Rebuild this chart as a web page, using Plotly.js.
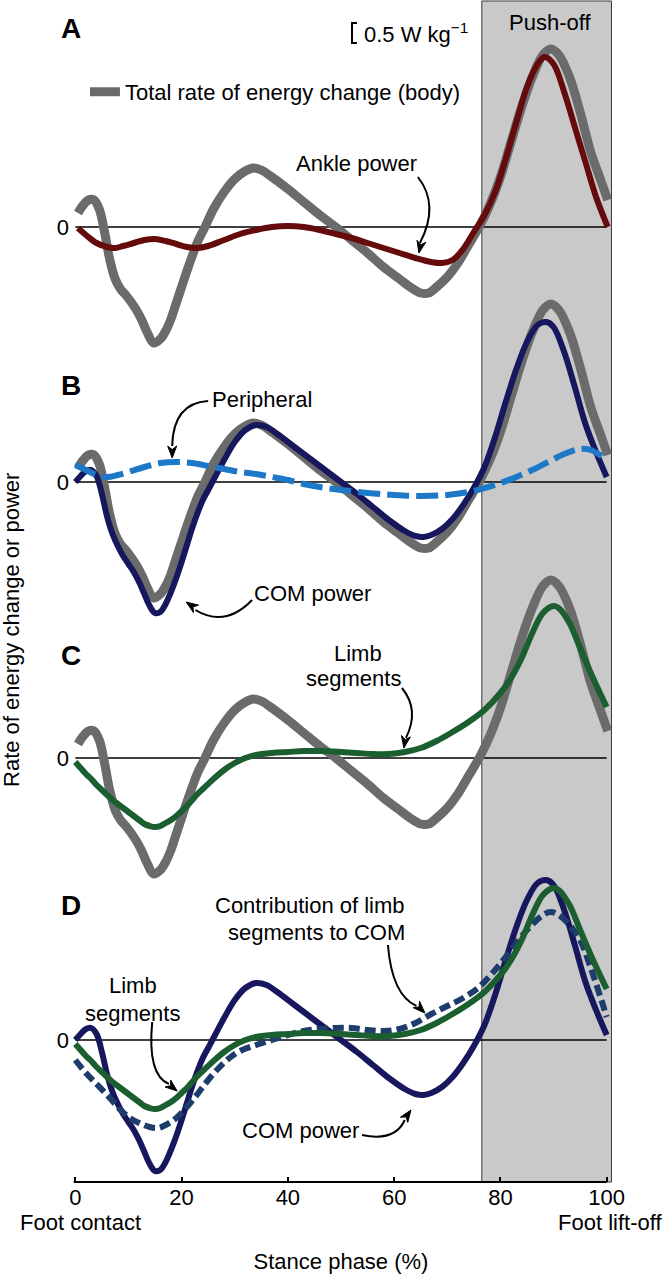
<!DOCTYPE html>
<html>
<head>
<meta charset="utf-8">
<script src="https://cdn.plot.ly/plotly-3.0.1.min.js"></script>
<style>html,body{margin:0;padding:0;background:#fff;}#chart{width:664px;height:1275px;}</style>
</head>
<body>
<div id="chart"></div>
<script>
// ---- Data (W kg^-1 vs stance phase %) ----
const xTotal = [0.5,1.5,2.5,3.5,4.5,5.5,6.5,7.5,8.5,9.5,10.5,11.5,12.5,13.5,14.7,16,17,18,19,20,21,22,23,24.4,26,28,30,32,33.5,35,37,40,43,46,49,52,55,58,61,63,65,66.5,68,70,72,74,76,78,80,82,84,86,88,89.5,91,93,95,97,99,100.2];
const yTotal = [0.35,0.55,0.675,0.675,0.45,-0.125,-0.825,-1.3,-1.55,-1.7,-1.875,-2.075,-2.325,-2.625,-2.9,-2.8,-2.6,-2.3,-1.9,-1.5,-1.1,-0.725,-0.375,0,0.45,0.875,1.2,1.4,1.475,1.425,1.25,0.95,0.625,0.3,0,-0.325,-0.65,-1.0,-1.3,-1.5,-1.65,-1.65,-1.5,-1.25,-0.9,-0.45,0,0.55,1.25,2.125,3.0,3.75,4.3,4.45,4.3,3.75,2.875,1.875,1.125,0.675];

const xAnkle = [0.5,2,4,6,7.5,9,11,13,15,17,19,21,23,25,28,31,34,37,40,43,46,49,52,55,58,61,64,67,69,71,73,75,77,79,81,83,85,87,88.3,90,92,94,96,98,100.2];
const yAnkle = [-0.025,-0.2,-0.4,-0.5,-0.525,-0.475,-0.4,-0.325,-0.3,-0.35,-0.425,-0.5,-0.525,-0.475,-0.325,-0.175,-0.075,0,0.025,0,-0.075,-0.175,-0.275,-0.4,-0.525,-0.65,-0.775,-0.875,-0.9,-0.825,-0.55,-0.125,0.3,0.875,1.7,2.625,3.5,4.075,4.25,4.075,3.375,2.5,1.625,0.75,0];

const xCom = [0,1,2,3,4,5,6,7,8,9,10,11,12,13,14,15,16,17,18,19,20,21,22,23,24,25,26,28,30,32,34,36,38,41,44,47,50,53,56,59,62,64,65.5,67,69,71,73,75,77,79,81,83,85,87,88.7,90,92,94,96,98,100];
const yCom = [0,0.15,0.275,0.3,0.15,-0.3,-0.875,-1.3,-1.6,-1.85,-2.05,-2.25,-2.5,-2.8,-3.1,-3.275,-3.25,-3.05,-2.75,-2.4,-2.0,-1.575,-1.15,-0.775,-0.45,-0.2,0.05,0.55,1.0,1.3,1.425,1.375,1.2,0.9,0.6,0.3,0,-0.3,-0.625,-0.95,-1.225,-1.35,-1.375,-1.325,-1.175,-0.925,-0.575,-0.15,0.375,1.125,2.0,2.825,3.5,3.925,4.0,3.875,3.25,2.375,1.45,0.75,0.125];

const xPeripheral = [0,2,4,6,8,10,13,16,19,22,25,28,31,34,37,40,43,46,50,55,60,65,70,74,77,80,83,86,89,92,95,97,99,100];
const yPeripheral = [0.425,0.3,0.175,0.125,0.175,0.25,0.375,0.475,0.5,0.475,0.4,0.325,0.25,0.2,0.125,0.05,-0.05,-0.125,-0.2,-0.275,-0.325,-0.35,-0.325,-0.25,-0.15,-0.025,0.125,0.3,0.5,0.7,0.825,0.8,0.65,0.55];

const xLimb = [0,1,2,3,4,5,6,7,8,9,10,11,12,13,14,15,16,17,18,19,20,21,22,23,24,26,28,30,32,34,37,40,43,46,50,53,56,59,62,65,68,71,74,77,80,82,84,86,88,90,91,93,95,97,99,100];
const yLimb = [-0.1,-0.25,-0.4,-0.525,-0.675,-0.8,-0.925,-1.05,-1.15,-1.25,-1.35,-1.45,-1.55,-1.65,-1.7,-1.725,-1.7,-1.625,-1.55,-1.45,-1.325,-1.2,-1.05,-0.9,-0.775,-0.525,-0.3,-0.125,0,0.075,0.125,0.15,0.175,0.175,0.15,0.125,0.1,0.1,0.15,0.25,0.425,0.65,0.9,1.2,1.625,2.0,2.5,3.125,3.625,3.8,3.75,3.375,2.75,2.125,1.55,1.275];

const xContrib = [0,2,4,6,8,10,12,14,15.5,17,19,21,23,25,27,29,31,34,37,40,43,46,49,52,55,58,61,64,67,70,73,76,79,82,85,88,89.5,91,93,95,97,99,100];
const yContrib = [-0.5,-0.825,-1.1,-1.375,-1.675,-1.925,-2.075,-2.175,-2.2,-2.125,-1.95,-1.675,-1.35,-1.0,-0.7,-0.45,-0.275,-0.125,0,0.125,0.225,0.275,0.3,0.3,0.25,0.225,0.275,0.425,0.65,0.85,1.05,1.325,1.75,2.25,2.75,3.125,3.2,3.125,2.875,2.5,1.8,1.0,0.575];

const xTicks = [0,20,40,60,80,100];
const xTickText = ['0','20','40','60','80','100'];
const pushOff = [76.5, 100.9];

// ---- Styling ----
const FONT = 'Liberation Sans, Arial, Helvetica, sans-serif';
const GRAY = '#6b6b6b', MAROON = '#650b0b', NAVY = '#17175e', BLUE = '#1e78c8', GREEN = '#1b5e2f', DNAVY = '#1e3d6c';
const W = 664, H = 1275, M = {l: 70, r: 52, t: 1, b: 93};
const XR = [-1, 101];
const SX = (W - M.l - M.r) / (XR[1] - XR[0]);   // px per % stance
const SY = 40;                                   // px per W kg^-1 (set by the y ranges below)

function ln(x, y, yaxis, color, width, extra) {
  return {x: x, y: y, xaxis: 'x', yaxis: yaxis, type: 'scatter', mode: 'lines',
    line: Object.assign({color: color, width: width, shape: 'spline', smoothing: 1}, extra || {}),
    hoverinfo: 'skip', showlegend: false};
}

const tTotalA = ln(xTotal, yTotal, 'y', GRAY, 9);
tTotalA.showlegend = true; tTotalA.name = 'Total rate of energy change (body)';
const traces = [
  tTotalA,
  ln(xAnkle, yAnkle, 'y', MAROON, 6),
  ln(xTotal, yTotal, 'y2', GRAY, 9),
  ln(xCom, yCom, 'y2', NAVY, 6),
  ln(xPeripheral, yPeripheral, 'y2', BLUE, 6, {dash: '22px,7px'}),
  ln(xTotal, yTotal, 'y3', GRAY, 9),
  ln(xLimb, yLimb, 'y3', GREEN, 6),
  ln(xCom, yCom, 'y4', NAVY, 6),
  ln(xContrib, yContrib, 'y4', DNAVY, 6, {dash: '11px,5px'}),
  ln(xLimb, yLimb, 'y4', GREEN, 6)
];

function yax(range, overlay) {
  const a = {range: range, tickvals: [0], ticktext: ['0'], ticks: '', showgrid: false, zeroline: false,
    showline: false, fixedrange: true, tickfont: {size: 22, family: FONT, color: '#000'}, automargin: false};
  if (overlay) { a.overlaying = 'y'; a.side = 'left'; }
  return a;
}

function txt(text, x, yref, y, o) {
  return Object.assign({text: text, x: x, y: y, xref: 'x', yref: yref, showarrow: false,
    xanchor: 'center', yanchor: 'middle', font: {size: 22, family: FONT, color: '#000'}}, o || {});
}
// filled arrowhead: tip in data coords, direction given as a screen vector (tail -> tip)
function head(yref, x, y, dx, dy) {
  const L = 12, Wd = 4.5, n = Math.hypot(dx, dy), ux = dx / n, uy = dy / n;
  const bx = -ux * L, by = -uy * L;                 // base centre offset (px)
  const p1 = [bx - uy * Wd, by + ux * Wd], p2 = [bx + uy * Wd, by - ux * Wd];
  const X = (px) => (x + px / SX).toFixed(3), Y = (py) => (y - py / SY).toFixed(3);
  return {type: 'path', xref: 'x', yref: yref, fillcolor: '#000', line: {color: '#000', width: 1},
    path: 'M' + X(0) + ',' + Y(0) + ' L' + X(p1[0]) + ',' + Y(p1[1]) + ' L' + X(bx * 0.7) + ',' + Y(by * 0.7) +
          ' L' + X(p2[0]) + ',' + Y(p2[1]) + ' Z'};
}
function curve(yref, path) {
  return {type: 'path', xref: 'x', yref: yref, path: path, line: {color: '#000', width: 2}, layer: 'above'};
}
const bold = {size: 28, family: FONT, color: '#000', weight: 'bold'};

const shapes = [
  {type: 'rect', xref: 'x', yref: 'paper', x0: pushOff[0], x1: pushOff[1], y0: 0, y1: 1,
   fillcolor: '#c9c9c9', line: {color: '#3a3a3a', width: 1}, layer: 'below'},
  {type: 'line', xref: 'x', yref: 'y', x0: 0, x1: 100, y0: 0, y1: 0, line: {color: '#000', width: 1.5}, layer: 'below'},
  {type: 'line', xref: 'x', yref: 'y2', x0: 0, x1: 100, y0: 0, y1: 0, line: {color: '#000', width: 1.5}, layer: 'below'},
  {type: 'line', xref: 'x', yref: 'y3', x0: 0, x1: 100, y0: 0, y1: 0, line: {color: '#000', width: 1.5}, layer: 'below'},
  {type: 'line', xref: 'x', yref: 'y4', x0: 0, x1: 100, y0: 0, y1: 0, line: {color: '#000', width: 1.5}, layer: 'below'},
  // x axis line
  {type: 'line', xref: 'x', yref: 'paper', x0: -0.3, x1: 100, y0: 0, y1: 0, line: {color: '#000', width: 2}},
  // scale bar 0.5 W/kg
  {type: 'path', xref: 'x', yref: 'y', path: 'M53.0,5.1 L52.07,5.1 L52.07,4.6 L53.0,4.6', line: {color: '#000', width: 2}},
  curve('y', 'M64.47,1.25 Q68.61,0.55 64.85,-0.4'),
  head('y', 64.66, -0.65, -3, 14),
  curve('y2', 'M25.0,2.025 Q18.42,1.975 18.23,0.9'),
  head('y2', 18.23, 0.6, 0, 12),
  curve('y2', 'M33.27,-2.95 Q28.2,-3.65 22.6,-3.2'),
  head('y2', 20.86, -3.0, -10, -7),
  curve('y3', 'M61.47,1.75 Q64.85,1.2 62.22,0.5'),
  head('y3', 61.84, 0.25, -2, 12),
  curve('y4', 'M58.83,2.375 Q59.59,1.125 64.2,0.85'),
  head('y4', 65.79, 0.675, 10, 10),
  curve('y4', 'M14.47,0.45 Q13.53,-0.875 17.6,-1.1'),
  head('y4', 19.17, -1.275, 10, 8),
  curve('y4', 'M53.95,-2.375 Q60.15,-2.55 62.0,-2.0'),
  head('y4', 63.16, -1.75, 7, -10)
];

const annotations = [
  txt('A', -0.75, 'y', 4.975, {font: bold}),
  txt('B', -0.75, 'y2', 2.425, {font: bold}),
  txt('C', -0.75, 'y3', 2.575, {font: bold}),
  txt('D', -0.75, 'y4', 3.375, {font: bold}),
  txt('Push-off', 89.29, 'y', 5.125),
  txt('0.5 W kg<sup>−1</sup>', 53.95, 'y', 4.85, {xanchor: 'left'}),
  txt('Ankle power', 53.0, 'y', 1.6),
  txt('Peripheral', 35.15, 'y2', 2.075),
  txt('COM power', 44.55, 'y2', -2.775),
  txt('Limb', 53.2, 'y3', 2.625),
  txt('segments', 52.44, 'y3', 2.0),
  txt('Contribution of limb', 62.41, 'y4', 3.375, {xanchor: 'right'}),
  txt('segments to COM', 62.41, 'y4', 2.7, {xanchor: 'right'}),
  txt('Limb', 10.9, 'y4', 1.375),
  txt('segments', 10.71, 'y4', 0.675),
  txt('COM power', 42.29, 'y4', -2.25),
  txt('Foot contact', 0.94, 'paper', -0.0339),
  txt('Foot lift-off', 100.56, 'paper', -0.0339),
  {text: 'Rate of energy change or power', xref: 'paper', yref: 'paper', x: -0.1089, y: 0.4674,
   showarrow: false, textangle: -90, xanchor: 'center', yanchor: 'middle',
   font: {size: 22, family: FONT, color: '#000'}}
];

const layout = {
  width: W, height: H,
  margin: M,
  paper_bgcolor: '#fff', plot_bgcolor: 'rgba(0,0,0,0)',
  font: {family: FONT, size: 22, color: '#000'},
  showlegend: true,
  legend: {x: 0.0276, y: 0.923, xanchor: 'left', yanchor: 'middle', bgcolor: 'rgba(0,0,0,0)',
           borderwidth: 0, font: {size: 22, family: FONT, color: '#000'}},
  xaxis: {range: XR, tickvals: xTicks, ticktext: xTickText, ticks: 'inside', ticklen: 5,
          tickwidth: 2, tickcolor: '#000', showgrid: false, zeroline: false, showline: false,
          fixedrange: true, automargin: false, tickfont: {size: 22, family: FONT, color: '#000'},
          title: {text: 'Stance phase (%)', font: {size: 22, family: FONT, color: '#000'}, standoff: 44}},
  yaxis: yax([-23.875, 5.65], false),
  yaxis2: yax([-17.5, 12.025], true),
  yaxis3: yax([-10.6, 18.925], true),
  yaxis4: yax([-3.55, 25.975], true),
  shapes: shapes,
  annotations: annotations
};

Plotly.newPlot('chart', traces, layout, {displayModeBar: false, staticPlot: true});
</script>
</body>
</html>
